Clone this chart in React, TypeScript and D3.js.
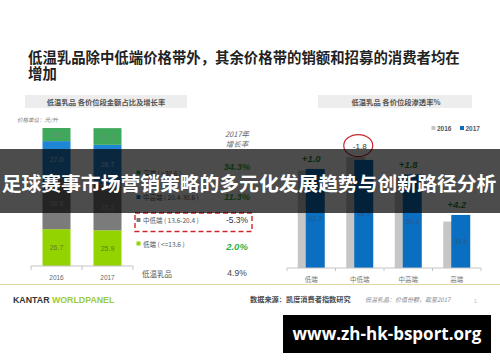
import React from 'react';
import * as d3 from 'd3';

// stacked share chart (values bottom -> top)
const years = ['2016', '2017'];
const tierKeys = ['低端', '中低端', '中高端', '高端'];
const share2016 = [26.7, 36.8, 27.0, 9.5];
const share2017 = [25.9, 33.2, 28.7, 12.1];
const tierLegend = ['高端 ( >30.6 )', '中高端 ( 20.4-30.6 )', '中低端 ( 13.6-20.4 )', '低端 ( <=13.6 )'];
const growth2017 = ['34.3%', '11.3%', '-5.3%', '2.0%'];
const totalLabel = '低温乳品';
const totalGrowth = '4.9%';

// penetration chart
const pen2016 = [61.7, 70.2, 57.4, 29.4];
const pen2017 = [62.7, 68.4, 59.2, 33.6];
const penDelta = ['+1.0', '-1.8', '+1.8', '+4.2'];

const W = 500;
const H = 362;
const CJK = '"Noto Sans CJK SC", "Liberation Sans", sans-serif';
const LAT = '"Liberation Sans", "Noto Sans CJK SC", sans-serif';

const tierColor: Record<string, string> = {
    低端: '#93d300',
    中低端: '#7b7b7b',
    中高端: '#1f86d5',
    高端: '#3fa95b',
};
const segLabelColor: Record<string, string> = {
    低端: '#5f7f28',
    中低端: '#a9a9a9',
    中高端: '#bcd0e2',
    高端: '#6e8f76',
};

const App: React.FC = () => {
    // ---- left: stacked bars
    const xL = d3.scaleBand<string>().domain(years).range([31, 133]);
    const yL = d3.scaleLinear().domain([0, 100]).range([266, 128]);
    const barW = 28;
    const rows = years.map((yr, i) => {
        const src = i === 0 ? share2016 : share2017;
        const r: any = { year: yr };
        tierKeys.forEach((k, j) => (r[k] = src[j]));
        return r;
    });
    const series = d3.stack<any>().keys(tierKeys)(rows);

    const legendY = [172.5, 197, 220, 243.5];
    const valueY = [166, 196, 220, 246];
    const legendKeys = tierKeys.slice().reverse();

    // ---- right: grouped (overlapped) bars
    const xR = d3.scaleBand<string>().domain(tierKeys).range([287, 481]);
    const yR = d3.scaleLinear().domain([0, 100]).range([268, 110]);
    const bw = 19;

    return (
        <svg width={W} height={H} style={{ position: 'absolute', left: 0, top: 0, background: '#fff' }}>
            <rect width={W} height={H} fill="#fff" />

            {/* title */}
            <g fontFamily={CJK} fontWeight={700} fontSize={14.4} fill="#222">
                <text x={28} y={56.5} dominantBaseline="central">低温乳品除中低端价格带外，其余价格带的销额和招募的消费者均在</text>
                <text x={28} y={72} dominantBaseline="central">增加</text>
            </g>

            {/* panel headers */}
            <rect x={25} y={95} width={162} height={13} fill="#ededed" />
            <text x={106} y={101.5} textAnchor="middle" dominantBaseline="central" fontFamily={CJK} fontWeight={700} fontSize={7.3} fill="#555">低温乳品  各价位段金额占比及增长率</text>
            <rect x={318} y={95} width={154} height={13} fill="#ededed" />
            <text x={396} y={101.5} textAnchor="middle" dominantBaseline="central" fontFamily={CJK} fontWeight={700} fontSize={7.3} fill="#555">低温乳品  各价位段渗透率%</text>

            <text x={17} y={120} dominantBaseline="central" fontFamily={CJK} fontStyle="italic" fontSize={5.5} fill="#777">价格单位：元/升</text>

            {/* stacked bars */}
            {series.map(s => (
                <g key={s.key}>
                    {s.map((d, i) => {
                        const x0 = (xL(years[i]) || 0) + (xL.bandwidth() - barW) / 2;
                        const top = yL(d[1]);
                        const bot = yL(d[0]);
                        return (
                            <g key={i}>
                                <rect x={x0} y={top} width={barW} height={bot - top} fill={tierColor[s.key]} />
                                <text x={x0 + barW / 2} y={(top + bot) / 2} textAnchor="middle" dominantBaseline="central" fontFamily={LAT} fontSize={7} fill={segLabelColor[s.key]}>
                                    {(d[1] - d[0]).toFixed(1)}
                                </text>
                            </g>
                        );
                    })}
                </g>
            ))}
            <line x1={31} x2={133} y1={266} y2={266} stroke="#c4c4c4" />
            {[...years.map(y => xL(y) || 0), 133].map((x, i) => (
                <line key={i} x1={x} x2={x} y1={266} y2={270} stroke="#c4c4c4" />
            ))}
            {years.map(y => (
                <text key={y} x={(xL(y) || 0) + xL.bandwidth() / 2} y={277} textAnchor="middle" dominantBaseline="central" fontFamily={LAT} fontSize={6.5} fill="#666">{y}</text>
            ))}

            {/* growth legend */}
            <g fontFamily={CJK} fontStyle="italic" fontSize={7.5} fill="#666" textAnchor="middle">
                <text x={237} y={133} dominantBaseline="central">2017年</text>
                <text x={237} y={143} dominantBaseline="central">增长率</text>
            </g>
            {tierLegend.map((lab, i) => (
                <g key={lab}>
                    <rect x={136.5} y={legendY[i] - 2} width={4} height={4} fill={tierColor[legendKeys[i]]} />
                    <text x={143} y={legendY[i]} dominantBaseline="central" fontFamily={CJK} fontSize={6.5} fill="#555">{lab}</text>
                    {growth2017[i].startsWith('-') ? (
                        <text x={237} y={valueY[i]} textAnchor="middle" dominantBaseline="central" fontFamily={LAT} fontSize={8.5} fill="#333">{growth2017[i]}</text>
                    ) : (
                        <text x={237} y={valueY[i]} textAnchor="middle" dominantBaseline="central" fontFamily={LAT} fontWeight={700} fontStyle="italic" fontSize={9.5} fill="#2fb24c">{growth2017[i]}</text>
                    )}
                </g>
            ))}
            <rect x={135} y={213} width={117} height={18.5} fill="none" stroke="#d3262b" strokeWidth={1.4} strokeDasharray="5,3" />
            <text x={142} y={273} dominantBaseline="central" fontFamily={CJK} fontSize={7.5} fill="#555">{totalLabel}</text>
            <text x={237} y={273} textAnchor="middle" dominantBaseline="central" fontFamily={LAT} fontSize={8.5} fill="#444">{totalGrowth}</text>

            {/* right legend */}
            <rect x={431.5} y={126} width={4} height={4} fill="#c6c6c6" />
            <text x={437} y={128} dominantBaseline="central" fontFamily={LAT} fontWeight={700} fontSize={6.5} fill="#555">2016</text>
            <rect x={460} y={126} width={4} height={4} fill="#0a6fc0" />
            <text x={465.5} y={128} dominantBaseline="central" fontFamily={LAT} fontWeight={700} fontSize={6.5} fill="#555">2017</text>

            {/* penetration bars */}
            {tierKeys.map((k, i) => {
                const c = (xR(k) || 0) + xR.bandwidth() / 2;
                const top = yR(Math.max(pen2016[i], pen2017[i]));
                const neg = penDelta[i].startsWith('-');
                return (
                    <g key={k}>
                        <rect x={c - 13.5} y={yR(pen2016[i])} width={bw} height={yR(0) - yR(pen2016[i])} fill="#c6c6c6" />
                        <rect x={c - 5.5} y={yR(pen2017[i])} width={bw} height={yR(0) - yR(pen2017[i])} fill="#0a6fc0" />
                        <text x={c + 4} y={(yR(pen2017[i]) + yR(0)) / 2} textAnchor="middle" dominantBaseline="central" fontFamily={LAT} fontSize={7} fill="#27588e">{pen2017[i].toFixed(1)}</text>
                        {neg ? (
                            <g>
                                <text x={c} y={top - 11} textAnchor="middle" dominantBaseline="central" fontFamily={LAT} fontSize={8} fill="#333">{penDelta[i]}</text>
                                <ellipse cx={c - 1.5} cy={top - 11.5} rx={14.5} ry={11} fill="none" stroke="#c4282e" strokeWidth={1.2} />
                            </g>
                        ) : (
                            <text x={c} y={top - 10} textAnchor="middle" dominantBaseline="central" fontFamily={LAT} fontWeight={700} fontStyle="italic" fontSize={9.5} fill="#2e8a3e">{penDelta[i]}</text>
                        )}
                    </g>
                );
            })}
            <line x1={287} x2={481} y1={268} y2={268} stroke="#c4c4c4" />
            {[...tierKeys.map(k => xR(k) || 0), 481].map((x, i) => (
                <line key={i} x1={x} x2={x} y1={268} y2={271} stroke="#c4c4c4" />
            ))}
            {tierKeys.map(k => (
                <text key={k} x={(xR(k) || 0) + xR.bandwidth() / 2} y={279} textAnchor="middle" dominantBaseline="central" fontFamily={CJK} fontSize={6.5} fill="#777">{k}</text>
            ))}

            {/* footer */}
            <line x1={0} x2={W} y1={284.5} y2={284.5} stroke="#e6d6a4" strokeWidth={1} />
            <text x={13} y={300} dominantBaseline="central" fontFamily={LAT} fontWeight={700} fontSize={8.8}>
                <tspan fill="#333">KANTAR </tspan>
                <tspan fill="#9ccb3b">WORLDPANEL</tspan>
            </text>
            <text x={250} y={299} dominantBaseline="central" fontFamily={CJK} fontWeight={700} fontSize={7.2} fill="#4a4a4a">数据来源：凯度消费者指数研究</text>
            <text x={365} y={299} dominantBaseline="central" fontFamily={CJK} fontStyle="italic" fontSize={6} fill="#888">低温乳品：价值份额，截至2017</text>
            <text x={474} y={301} dominantBaseline="central" fontFamily={LAT} fontSize={5} fill="#bbb">1</text>

            {/* overlay banner */}
            <rect x={0} y={149} width={W} height={64} fill="#000" fillOpacity={0.7} />
            <text x={249} y={182} textAnchor="middle" dominantBaseline="central" fontFamily={CJK} fontWeight={700} fontSize={19.8} fill="#fff">足球赛事市场营销策略的多元化发展趋势与创新路径分析</text>

            {/* watermark */}
            <rect x={283} y={315} width={208} height={38} fill="#000" />
            <text x={387} y={333.5} textAnchor="middle" dominantBaseline="central" fontFamily='"Open Sans", sans-serif' fontWeight={700} fontSize={17} fill="#fff">www.zh-hk-bsport.org</text>
        </svg>
    );
};

export default App;
